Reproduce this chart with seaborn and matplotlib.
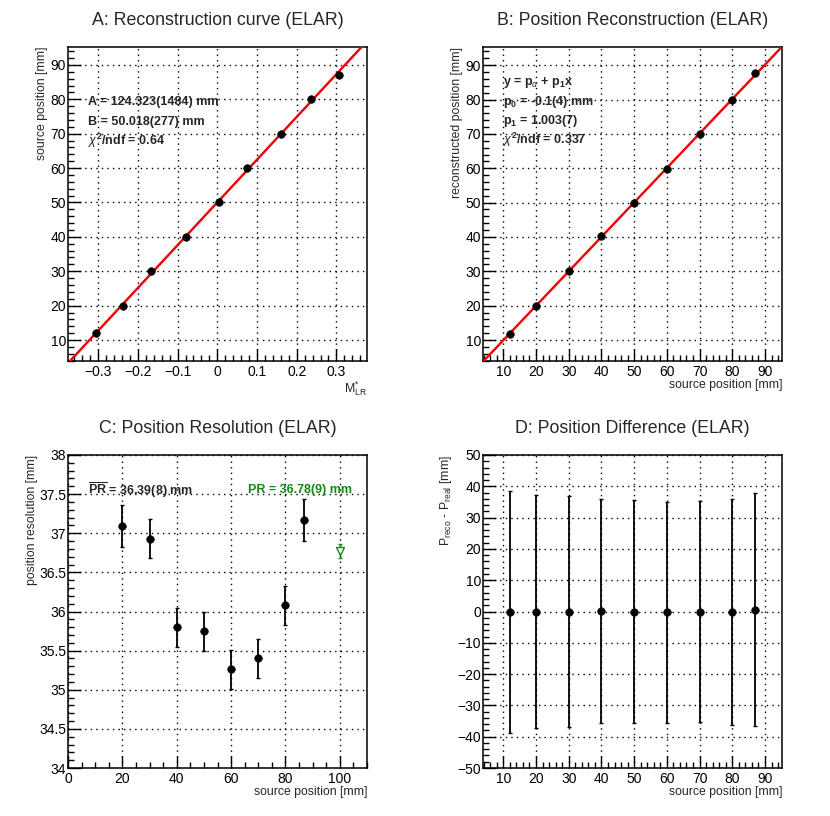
import numpy as np
import pandas as pd
import matplotlib
matplotlib.use('Agg')
import matplotlib.pyplot as plt
from matplotlib.ticker import MultipleLocator
import seaborn as sns

sns.set_theme(style='ticks')
plt.rcParams['font.family'] = ['Liberation Sans', 'DejaVu Sans']
plt.rcParams['mathtext.fontset'] = 'custom'
plt.rcParams['mathtext.rm'] = 'Liberation Sans'
plt.rcParams['mathtext.it'] = 'Liberation Sans:italic'
plt.rcParams['mathtext.bf'] = 'Liberation Sans:bold'

# ── Data ─────────────────────────────────────────────────────────────────
source_pos = [12, 20, 30, 40, 50, 60, 70, 80, 87]

# A: reconstruction curve
m_lr = [-0.306, -0.238, -0.166, -0.080, 0.005, 0.074, 0.161, 0.237, 0.307]
fit_A, fit_B = 124.323, 50.018

# B: reconstructed vs source position
reco_pos = [11.8, 20.0, 30.0, 40.4, 50.0, 59.7, 70.0, 80.0, 87.7]
p0, p1 = -0.1, 1.003

# C: position resolution
res_pos = [20, 30, 40, 50, 60, 70, 80, 87]
res_val = [37.09, 36.93, 35.80, 35.75, 35.26, 35.40, 36.08, 37.17]
res_err = [0.265, 0.25, 0.25, 0.25, 0.25, 0.25, 0.25, 0.27]
pr_extra_x, pr_extra_y, pr_extra_err = 100, 36.77, 0.09

# D: position difference
diff_val = [-0.2, 0.0, 0.0, 0.3, 0.0, -0.3, 0.0, -0.2, 0.6]
diff_err = [38.6, 37.09, 36.93, 35.80, 35.75, 35.26, 35.40, 36.08, 37.17]

GREEN = '#138a13'
TICK = 10
LBL = 8.8
BOLD = 9
MS = 30

fig = plt.figure(figsize=(8.3, 8.16), dpi=100)
W, H = 830, 816


def make_ax(l, t, r, b):
    return fig.add_axes([l / W, 1 - b / H, (r - l) / W, (b - t) / H])


def root_style(ax, xmaj, xmin, ymaj, ymin):
    ax.xaxis.set_major_locator(MultipleLocator(xmaj))
    ax.xaxis.set_minor_locator(MultipleLocator(xmin))
    ax.yaxis.set_major_locator(MultipleLocator(ymaj))
    ax.yaxis.set_minor_locator(MultipleLocator(ymin))
    ax.tick_params(which='both', direction='in', top=False, right=False,
                   labelsize=TICK, colors='black')
    ax.tick_params(axis='x', pad=3)
    ax.tick_params(axis='y', pad=1.5)
    ax.tick_params(which='major', length=9, width=1)
    ax.tick_params(which='minor', length=4.5, width=1)
    ax.grid(True, which='major', color='black', linestyle=(0, (1, 3)), lw=1)
    for s in ax.spines.values():
        s.set_visible(True)
        s.set_color('black')
        s.set_linewidth(1.1)
    ax.set_axisbelow(True)


def xlabel_right(ax, text):
    ax.set_xlabel(text, fontsize=LBL, loc='right', labelpad=0)


def ylabel_top(ax, text, pad=2):
    ax.set_ylabel(text, fontsize=LBL, loc='top', labelpad=pad)


def title(ax, text):
    ax.set_title(text, fontsize=12.8, pad=16)


# ── A ────────────────────────────────────────────────────────────────────
axA = make_ax(68, 47, 367, 361)
xlA = (-0.376, 0.377)
xf = np.linspace(*xlA, 50)
sns.lineplot(x=xf, y=fit_A * xf + fit_B, ax=axA, color='#ee0000', lw=1.7, zorder=3)
sns.scatterplot(x=m_lr, y=source_pos, ax=axA, color='black', s=MS,
                edgecolor='black', zorder=4)
axA.set_xlim(*xlA)
axA.set_ylim(3.9, 95.2)
root_style(axA, 0.1, 0.02, 10, 2)
axA.set_xticks([-0.3, -0.2, -0.1, 0, 0.1, 0.2, 0.3])
axA.set_xticklabels(['\u22120.3', '\u22120.2', '\u22120.1', '0', '0.1', '0.2', '0.3'])
xlabel_right(axA, r'M$^{*}_{\mathrm{LR}}$')
ylabel_top(axA, 'source position [mm]')
title(axA, 'A: Reconstruction curve (ELAR)')
for yy, t in zip([79.3, 73.5, 68.0],
                 ['A = 124.323(1484) mm', 'B = 50.018(277) mm',
                  r'$\chi^{\mathbf{2}}$/ndf = 0.64']):
    axA.text(-0.326, yy, t, fontsize=BOLD, fontweight='bold', va='center')

# ── B ────────────────────────────────────────────────────────────────────
axB = make_ax(483, 47, 782, 361)
xlB = (3.8, 95.2)
xf = np.linspace(*xlB, 50)
sns.lineplot(x=xf, y=p0 + p1 * xf, ax=axB, color='#ee0000', lw=1.7, zorder=3)
sns.scatterplot(x=source_pos, y=reco_pos, ax=axB, color='black', s=MS,
                edgecolor='black', zorder=4)
axB.set_xlim(*xlB)
axB.set_ylim(3.9, 95.3)
root_style(axB, 10, 2, 10, 2)
xlabel_right(axB, 'source position [mm]')
ylabel_top(axB, 'reconstructed position [mm]')
title(axB, 'B: Position Reconstruction (ELAR)')
for yy, t in zip([85.0, 79.4, 73.8, 68.2],
                 [r'y = p$_{\alpha}$ + p$_{\mathbf{1}}$x',
                  r'p$_{\mathbf{0}}$ = -0.1(4) mm',
                  r'p$_{\mathbf{1}}$ = 1.003(7)',
                  r'$\chi^{\mathbf{2}}$/ndf = 0.337']):
    axB.text(9.8, yy, t, fontsize=BOLD, fontweight='bold', va='center')

# ── C ────────────────────────────────────────────────────────────────────
axC = make_ax(68, 455, 367, 768)
dfC = pd.DataFrame({'x': res_pos, 'y': res_val, 'e': res_err})
axC.errorbar(dfC.x, dfC.y, yerr=dfC.e, fmt='none', ecolor='black',
             elinewidth=1.3, capsize=1.5, zorder=3)
sns.scatterplot(data=dfC, x='x', y='y', ax=axC, color='black', s=MS,
                edgecolor='black', zorder=4)
axC.errorbar([pr_extra_x], [pr_extra_y], yerr=[pr_extra_err], fmt='v',
             mfc='white', mec=GREEN, ecolor=GREEN, ms=5.5, mew=1,
             elinewidth=1, capsize=1.5, zorder=4)
axC.set_xlim(0, 110)
axC.set_ylim(34, 38)
root_style(axC, 20, 5, 0.5, 0.1)
axC.set_yticks([34, 34.5, 35, 35.5, 36, 36.5, 37, 37.5, 38])
axC.set_yticklabels(['34', '34.5', '35', '35.5', '36', '36.5', '37', '37.5', '38'])
xlabel_right(axC, 'source position [mm]')
ylabel_top(axC, 'position resolution [mm]', pad=1)
title(axC, 'C: Position Resolution (ELAR)')
axC.text(7.3, 37.55, r'$\overline{\mathbf{PR}}$ = 36.39(8) mm', fontsize=BOLD,
         fontweight='bold', va='center')
axC.text(66.4, 37.55, 'PR = 36.78(9) mm', fontsize=BOLD, fontweight='bold',
         va='center', color=GREEN)

# ── D ────────────────────────────────────────────────────────────────────
axD = make_ax(483, 455, 782, 768)
dfD = pd.DataFrame({'x': source_pos, 'y': diff_val, 'e': diff_err})
axD.errorbar(dfD.x, dfD.y, yerr=dfD.e, fmt='none', ecolor='black',
             elinewidth=1.3, capsize=1.5, zorder=3)
sns.scatterplot(data=dfD, x='x', y='y', ax=axD, color='black', s=MS,
                edgecolor='black', zorder=4)
axD.set_xlim(3.8, 95.2)
axD.set_ylim(-50, 50)
root_style(axD, 10, 2, 10, 2)
axD.set_yticks(range(-50, 51, 10))
axD.set_yticklabels([str(v).replace('-', '\u2212') for v in range(-50, 51, 10)])
xlabel_right(axD, 'source position [mm]')
ylabel_top(axD, r'P$_{\mathrm{reco}}$ - P$_{\mathrm{real}}$ [mm]')
title(axD, 'D: Position Difference (ELAR)')

fig.savefig('out.png', dpi=100, facecolor='white')
